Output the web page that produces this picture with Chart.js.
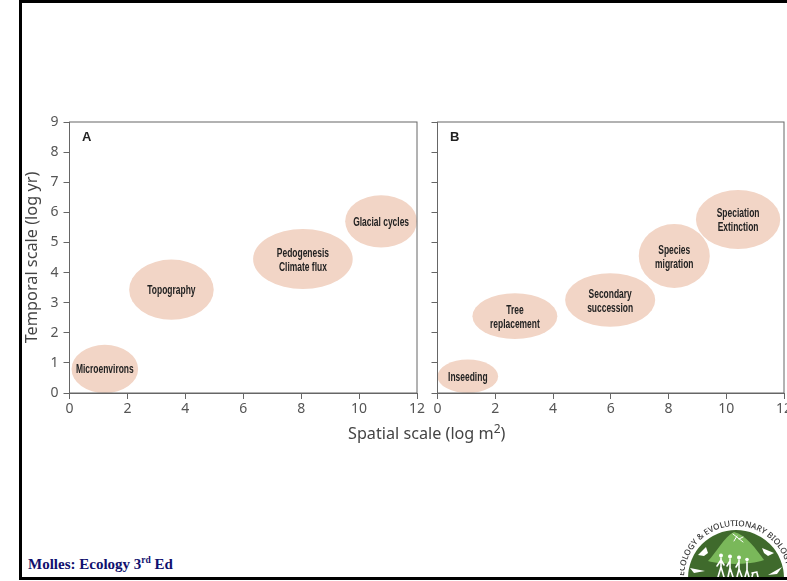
<!DOCTYPE html>
<html>
<head>
<meta charset="utf-8">
<script src="https://cdn.jsdelivr.net/npm/chart.js@4"></script>
<style>
html, body { margin: 0; padding: 0; background: #fff; overflow: hidden; width: 787px; height: 581px; }
canvas { position: absolute; filter: blur(0.45px); }
#frame { position: absolute; left: 19px; top: 0; width: 800px; height: 574px; border: 3px solid #000; border-width: 3px 0 3px 3px; box-sizing: content-box; z-index: 5; pointer-events: none; }
#under { position: absolute; left: 0; top: 580px; width: 787px; height: 1px; background: #fff; z-index: 6; }
#xtitle { position: absolute; left: 348px; top: 422px; font: 16.2px "Noto Sans", sans-serif; color: #444; white-space: nowrap; filter: blur(0.35px); }
#xtitle sup { font-size: 12px; line-height: 0; }
#credit { position: absolute; left: 28px; top: 556px; font: bold 15px "Liberation Serif", serif; color: #10106e; white-space: nowrap; }
#credit sup { font-size: 9.5px; line-height: 0; }
#logo { position: absolute; left: 680px; top: 515px; z-index: 2; filter: blur(0.4px); }
</style>
</head>
<body>
<canvas id="chartA" width="410" height="350" style="left:20px;top:100px"></canvas>
<canvas id="chartB" width="420" height="350" style="left:400px;top:100px"></canvas>
<div id="xtitle">Spatial scale (log m<sup>2</sup>)</div>
<div id="credit">Molles: Ecology 3<sup>rd</sup> Ed</div>
<svg id="logo" width="112" height="66" viewBox="0 0 112 66">
  <defs><path id="ring" d="M 4 63 A 52 52 0 0 1 108 63"/></defs>
  <circle cx="56" cy="63" r="48" fill="#3f6a2c"/>
  <path d="M28 46 C36 38 44 22 54 17 C66 20 76 34 84 45 C70 50 42 50 28 46 Z" fill="#7ab85a"/>
  <g fill="#fff" stroke="#fff" stroke-width="1.6" stroke-linecap="round">
    <path d="M41 43 L41 52 M41 52 L38 62 M41 52 L44 62 M41 45 L37 51 M41 45 L44 50" fill="none"/>
    <path d="M50 44 L50 53 M50 53 L48 62 M50 53 L53 62 M50 46 L47 51" fill="none"/>
    <path d="M59 45 L59 54 M59 54 L57 62 M59 54 L62 62 M59 47 L56 52" fill="none"/>
    <path d="M67 47 L67 55 M67 55 L65 62 M67 55 L69 62" fill="none"/>
    <path d="M72 58 L77 57 M73 58 L72 62 M77 58 L78 62" fill="none"/>
    <path d="M53 19 L63 27 M57 21 L54 26 M59 24 L63 22" fill="none" stroke-width="1"/>
  </g>
  <g fill="#fff">
    <circle cx="41" cy="40.5" r="2"/><circle cx="50" cy="41.5" r="2"/><circle cx="59" cy="42.5" r="2"/><circle cx="67" cy="44.5" r="1.8"/>
    <path d="M18 40 L26 32 L28 38 L24 41 Z"/><path d="M82 33 L94 38 L88 41 L84 38 Z"/>
    <path d="M10 53 L25 56 L14 58 Z"/><path d="M88 60 L102 52 L97 59 Z"/>
  </g>
  <text font-family="Noto Sans, sans-serif" font-size="8.2" font-weight="500" fill="#333"><textPath href="#ring" startOffset="2">ECOLOGY &amp; EVOLUTIONARY BIOLOGY</textPath></text>
</svg>
<div id="frame"></div>
<div id="under"></div>
<script>
// y ticks run 0-9, x ticks 0-12
const xTickValues = [0, 2, 4, 6, 8, 10, 12];
const yTickValues = [0, 1, 2, 3, 4, 5, 6, 7, 8, 9];

// panel A: abiotic processes, ranges in log units
const aNames = [['Microenvirons'], ['Topography'], ['Pedogenesis', 'Climate flux'], ['Glacial cycles']];
const aSpatialMin = [0.07, 2.06, 6.34, 9.52];
const aSpatialMax = [2.37, 4.98, 9.78, 12.0];
const aTemporalMin = [0.0, 2.43, 3.45, 4.83];
const aTemporalMax = [1.6, 4.43, 5.45, 6.57];

// panel B: biotic processes
const bNames = [['Inseeding'], ['Tree', 'replacement'], ['Secondary', 'succession'], ['Species', 'migration'], ['Speciation', 'Extinction']];
const bSpatialMin = [0.0, 1.21, 4.42, 6.97, 8.95];
const bSpatialMax = [2.1, 4.15, 7.54, 9.43, 11.87];
const bTemporalMin = [0.0, 1.79, 2.2, 3.49, 4.78];
const bTemporalMax = [1.11, 3.31, 3.98, 5.61, 6.74];

const axisColor = '#666';
const tickFont = { family: '"Noto Sans", sans-serif', size: 14 };

function buildPoints(names, xMin, xMax, yMin, yMax) {
  return names.map((name, i) => ({
    x: (xMin[i] + xMax[i]) / 2,
    y: (yMin[i] + yMax[i]) / 2,
    xMin: xMin[i], xMax: xMax[i], yMin: yMin[i], yMax: yMax[i],
    name
  }));
}

// ellipses + their labels, sized through the chart scales
const ellipsePlugin = {
  id: 'ellipses',
  beforeDatasetsDraw(chart) {
    const { ctx, scales: { x, y }, chartArea: area } = chart;
    const points = chart.data.datasets[0].data;
    ctx.save();
    points.forEach(p => {
      const left = x.getPixelForValue(p.xMin), right = x.getPixelForValue(p.xMax);
      const bottom = y.getPixelForValue(p.yMin), top = y.getPixelForValue(p.yMax);
      ctx.fillStyle = '#f2d5c6';
      ctx.beginPath();
      ctx.ellipse((left + right) / 2, (top + bottom) / 2, (right - left) / 2, (bottom - top) / 2, 0, 0, Math.PI * 2);
      ctx.fill();
    });
    ctx.strokeStyle = axisColor;
    ctx.lineWidth = 1;
    ctx.strokeRect(area.left, area.top, area.right - area.left, area.bottom - area.top);
    ctx.fillStyle = '#222';
    ctx.textAlign = 'center';
    ctx.textBaseline = 'middle';
    ctx.font = 'bold 13px "Liberation Sans", sans-serif';
    points.forEach(p => {
      const cx = x.getPixelForValue(p.x), cy = y.getPixelForValue(p.y);
      p.name.forEach((line, i) => {
        // the labels in the source are heavily condensed
        ctx.save();
        ctx.translate(cx, cy + 1 + (i - (p.name.length - 1) / 2) * 14);
        ctx.scale(0.65, 1);
        ctx.fillText(line, 0, 0);
        ctx.restore();
      });
    });
    ctx.textAlign = 'left';
    ctx.fillText(chart.options.plugins.ellipses.panel, area.left + 12.5, area.top + 15);
    ctx.restore();
  }
};

function renderPanel(id, panel, points, plotLeft, showYLabels, rightPad) {
  return new Chart(document.getElementById(id), {
    type: 'scatter',
    data: { datasets: [{ data: points, pointRadius: 0, pointHoverRadius: 0 }] },
    plugins: [ellipsePlugin],
    options: {
      responsive: false,
      animation: false,
      events: [],
      layout: { padding: { top: 22, right: rightPad, left: 0, bottom: 0 } },
      plugins: { legend: { display: false }, tooltip: { enabled: false }, ellipses: { panel } },
      scales: {
        x: {
          type: 'linear', min: 0, max: 12,
          afterBuildTicks: s => { s.ticks = xTickValues.map(value => ({ value })); },
          afterFit: s => { s.height = 57; },
          grid: { drawOnChartArea: false, drawTicks: true, tickLength: 6, tickColor: axisColor, color: axisColor },
          border: { color: axisColor },
          ticks: { font: tickFont, color: '#555', padding: 2, maxRotation: 0, autoSkip: false }
        },
        y: {
          type: 'linear', min: 0, max: 9,
          afterBuildTicks: s => { s.ticks = yTickValues.map(value => ({ value })); },
          afterFit: s => { s.width = plotLeft; },
          grid: { drawOnChartArea: false, drawTicks: true, tickLength: 6, tickColor: axisColor, color: axisColor },
          border: { color: axisColor },
          title: { display: showYLabels, text: 'Temporal scale (log yr)', font: { family: '"Noto Sans", sans-serif', size: 16.3 }, color: '#444', padding: { top: 3, bottom: 0 } },
          ticks: { display: showYLabels, font: tickFont, color: '#555', padding: 5, autoSkip: false }
        }
      }
    }
  });
}

renderPanel('chartA', 'A', buildPoints(aNames, aSpatialMin, aSpatialMax, aTemporalMin, aTemporalMax), 49.5, true, 13);
renderPanel('chartB', 'B', buildPoints(bNames, bSpatialMin, bSpatialMax, bTemporalMin, bTemporalMax), 37.5, false, 36);
</script>
</body>
</html>
